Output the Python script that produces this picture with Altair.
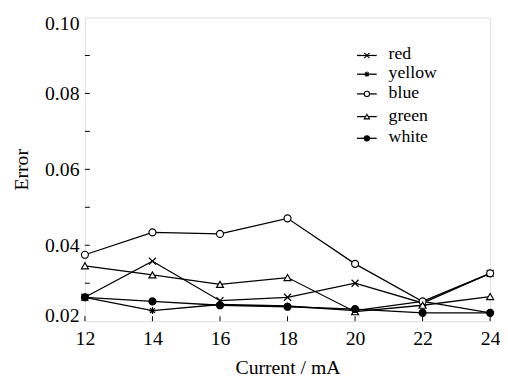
import altair as alt
import pandas as pd

currents = [12, 14, 16, 18, 20, 22, 24]
series_names = ["red", "yellow", "blue", "green", "white"]
red = [0.0263, 0.0358, 0.0254, 0.0263, 0.0300, 0.0248, 0.0326]
yellow = [0.0263, 0.0228, 0.0244, 0.0240, 0.0228, 0.0252, 0.0222]
blue = [0.0375, 0.0434, 0.0430, 0.0471, 0.0351, 0.0252, 0.0326]
green = [0.0346, 0.0322, 0.0297, 0.0315, 0.0225, 0.0242, 0.0265]
white = [0.0263, 0.0252, 0.0242, 0.0238, 0.0232, 0.0222, 0.0222]
x_ticks = [12, 14, 16, 18, 20, 22, 24]
y_labels = [0.02, 0.04, 0.06, 0.08, 0.10]
y_minor = [0.03, 0.04, 0.05, 0.06, 0.07, 0.08, 0.09]

X_PATH = "M-1,-1L1,1M-1,1L1,-1"
STAR_PATH = "M-1,0L1,0M0,-1L0,1M-0.7,-0.7L0.7,0.7M-0.7,0.7L0.7,-0.7"
shapes = [X_PATH, STAR_PATH, "circle", "triangle-up", "circle"]
fills = ["black", "black", "white", "white", "black"]

values = [red, yellow, blue, green, white]
rows = []
for name, vals in zip(series_names, values):
    for c, v in zip(currents, vals):
        rows.append({"current": c, "error": v, "series": name})
df = pd.DataFrame(rows)

W, H = 411, 308
FONT = "Times New Roman, Liberation Serif, serif"

xscale = alt.Scale(domain=[12, 24], nice=False, zero=False)
yscale = alt.Scale(domain=[0.02, 0.10], nice=False, zero=False)

xenc = alt.X("current:Q", scale=xscale,
             axis=alt.Axis(values=x_ticks, title="Current / mA", ticks=False, domain=False,
                           grid=False, labelFont=FONT, labelFontSize=20, titleFont=FONT,
                           titleFontSize=20, titleFontWeight="normal", labelColor="black",
                           titleColor="black", labelPadding=8, titlePadding=9,
                           labelFlush=False))
yenc = alt.Y("error:Q", scale=yscale,
             axis=alt.Axis(values=y_labels, format=".2f", title="Error", ticks=False,
                           domain=False, grid=False, labelFont=FONT, labelFontSize=20,
                           titleFont=FONT, titleFontSize=20, titleFontWeight="normal",
                           labelColor="black", titleColor="black", labelPadding=6,
                           titlePadding=13, labelFlush=True, labelFlushOffset=4))

lines = alt.Chart(df).mark_line(color="black", strokeWidth=1.3).encode(
    x=xenc, y=yenc, detail="series:N")

points = alt.Chart(df).mark_point(filled=False, stroke="black", strokeWidth=1.2,
                                  opacity=1, size=50).encode(
    x=alt.X("current:Q", scale=xscale),
    y=alt.Y("error:Q", scale=yscale),
    shape=alt.Shape("series:N", scale=alt.Scale(domain=series_names, range=shapes), legend=None),
    fill=alt.Fill("series:N", scale=alt.Scale(domain=series_names, range=fills), legend=None),
)

xt = alt.Chart(pd.DataFrame({"t": x_ticks})).mark_rule(color="black", strokeWidth=1).encode(
    x=alt.X("t:Q", scale=xscale), y=alt.value(H), y2=alt.value(H - 5))
yt = alt.Chart(pd.DataFrame({"t": y_minor})).mark_rule(color="black", strokeWidth=1).encode(
    y=alt.Y("t:Q", scale=yscale), x=alt.value(0), x2=alt.value(5))

legend_y = [38.5, 57.5, 77.5, 100.5, 122.5]
leg_layers = []
for name, shp, fl, ly in zip(series_names, shapes, fills, legend_y):
    leg_layers.append(alt.Chart(pd.DataFrame({"n": [name]})).mark_rule(
        color="black", strokeWidth=1.3).encode(
        x=alt.value(276), x2=alt.value(296), y=alt.value(ly)))
    leg_layers.append(alt.Chart(pd.DataFrame({"n": [name]})).mark_point(
        filled=False, stroke="black", strokeWidth=1.1, fill=fl, opacity=1,
        shape=shp, size=28).encode(x=alt.value(286), y=alt.value(ly)))
    leg_layers.append(alt.Chart(pd.DataFrame({"n": [name]})).mark_text(
        align="left", baseline="middle", font=FONT, fontSize=18, color="black").encode(
        x=alt.value(308), y=alt.value(ly - 1), text="n:N"))

chart = alt.layer(lines, points, xt, yt, *leg_layers).properties(
    width=W, height=H,
    autosize=alt.AutoSizeParams(type="none"),
    padding={"left": 78, "top": 7, "right": 10, "bottom": 57},
).configure_view(stroke="black", strokeWidth=1.5).configure(background="white")

chart.save("out.html", embed_options={"renderer": "svg", "actions": False})
